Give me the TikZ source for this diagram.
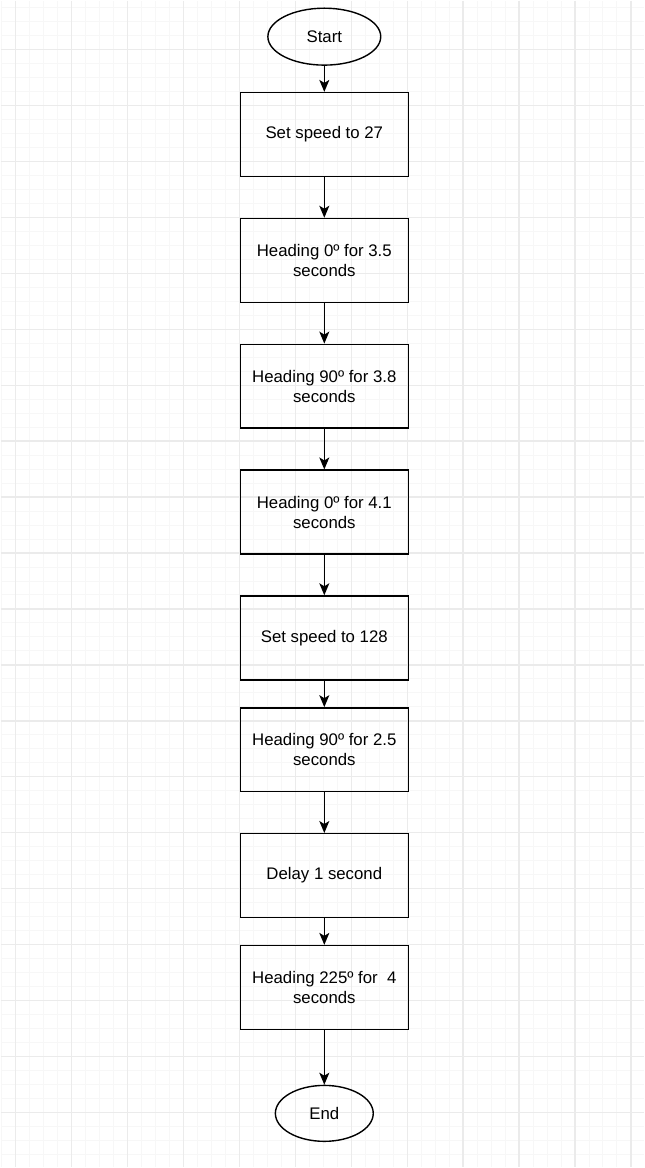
\documentclass[tikz,border=0pt]{standalone}
\usepackage{fontspec}
\setmainfont{Liberation Sans}
\usepackage{tikz}
\usetikzlibrary{
    arrows.meta,
    shapes.geometric
}
\definecolor{minorgrid}{HTML}{F7F7F7}
\definecolor{majorgrid}{HTML}{EBEBEB}

\begin{document}
\begin{tikzpicture}[x=1pt,y=-1pt,->,>={Stealth[length=12pt,width=10pt,inset=3pt]},semithick]
    \tikzstyle{every node}=[font=\fontsize{16.8}{20.2}\selectfont, align=center]
    \tikzstyle{process}=[draw, line width=1.4pt, shape=rectangle, minimum width=168pt, minimum height=84pt, inner sep=0pt]
    \tikzstyle{terminal}=[draw, line width=1.4pt, shape=ellipse, inner sep=0pt]
    \tikzstyle{flow}=[line width=1.4pt]
    % background grid
    \fill [white] (0,0) rectangle (644,1168);
    \foreach \x in {1,15,...,643} \draw [-, minorgrid, line width=1pt] (\x,0) -- (\x,1168);
    \foreach \y in {7,21,...,1167} \draw [-, minorgrid, line width=1pt] (0,\y) -- (644,\y);
    \foreach \x in {15,71,...,643} \draw [-, majorgrid, line width=1.4pt] (\x,0) -- (\x,1168);
    \foreach \y in {49,105,...,1167} \draw [-, majorgrid, line width=1.4pt] (0,\y) -- (644,\y);
    \useasboundingbox (0,0) rectangle (644,1168);

    \node [terminal, minimum width=113pt, minimum height=57pt] (start) at (324, 36) {Start};
	\node [process] (speed1) at (324, 134) {Set speed to 27};
	\node [process] (head1) at (324, 260) {Heading 0º for 3.5\\ seconds};
	\node [process] (head2) at (324, 386) {Heading 90º for 3.8\\ seconds};
	\node [process] (head3) at (324, 512) {Heading 0º for 4.1\\ seconds};
	\node [process] (speed2) at (324, 638) {Set speed to 128};
	\node [process] (head4) at (324, 750) {Heading 90º for 2.5\\ seconds};
	\node [process] (delay) at (324, 876) {Delay 1 second};
	\node [process] (head5) at (324, 988) {Heading 225º for\ \ 4\\ seconds};
    \node [terminal, minimum width=98pt, minimum height=56pt] (end) at (324, 1114) {End};

	\draw [flow] (start) -- (speed1);
	\draw [flow] (speed1) -- (head1);
	\draw [flow] (head1) -- (head2);
	\draw [flow] (head2) -- (head3);
	\draw [flow] (head3) -- (speed2);
	\draw [flow] (speed2) -- (head4);
	\draw [flow] (head4) -- (delay);
	\draw [flow] (delay) -- (head5);
	\draw [flow] (head5) -- (end);
\end{tikzpicture}
\end{document}
